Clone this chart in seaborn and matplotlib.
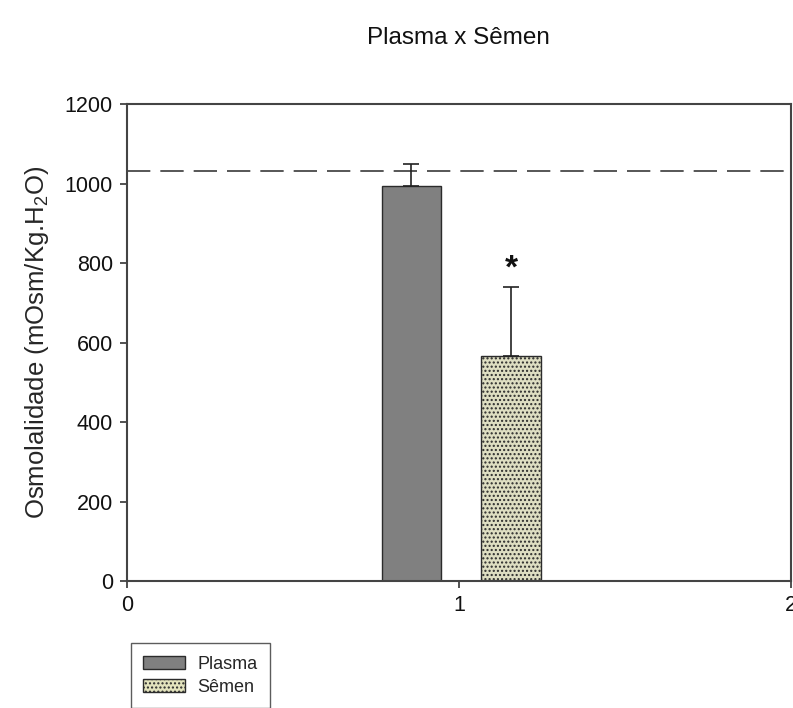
import matplotlib
matplotlib.use("Agg")
import matplotlib.pyplot as plt
import seaborn as sns
import pandas as pd
from matplotlib.patches import Patch

# ---- data ----
groups = ["Plasma", "Sêmen"]
means = [994, 566]
errors = [55, 174]
reference_line = 1031
x_ticks = [0, 1, 2]
y_ticks = [0, 200, 400, 600, 800, 1000, 1200]

BAR_X = [0.857, 1.157]

sns.set_theme(style="white")
plt.rcParams["font.family"] = ["Liberation Sans", "DejaVu Sans"]
plt.rcParams["hatch.color"] = "#5c5c40"
plt.rcParams["hatch.linewidth"] = 1.0

df = pd.DataFrame({"pos": BAR_X, "value": means, "group": groups})

fig = plt.figure(figsize=(7.93, 7.08), dpi=100)
ax = fig.add_axes([0.160, 0.179, 0.8375, 0.674])

colors = {"Plasma": "#808080", "Sêmen": "#e3e3bd"}
sns.barplot(data=df, x="pos", y="value", hue="group", native_scale=True,
            dodge=False, width=0.6, palette=colors, errorbar=None,
            edgecolor="#2b2b2b", linewidth=1.0, ax=ax, legend=False)

for p in ax.patches:
    fc = p.get_facecolor()
    if abs(fc[0] - 0xe3 / 255) < 0.02:
        p.set_hatch("....")

ax.errorbar(BAR_X, means, yerr=[[0, 0], errors], fmt="none",
            ecolor="#222222", elinewidth=1.2, capsize=6, capthick=1.2, zorder=1)

ax.axhline(reference_line, color="#3a3a3a", lw=1.2, dashes=(14, 6), zorder=0)

ax.text(BAR_X[1], means[1] + errors[1] + 5, "*", ha="center", va="bottom",
        fontsize=24, fontweight="bold", color="#111111")

ax.set_xlim(0, 2)
ax.set_ylim(0, 1200)
ax.set_xticks(x_ticks)
ax.set_xticklabels([str(t) for t in x_ticks])
ax.set_yticks(y_ticks)
ax.set_xlabel("")
ax.set_ylabel("Osmolalidade (mOsm/Kg.H$_\\mathregular{2}$O)", fontsize=18.5, labelpad=10)
ax.tick_params(axis="both", direction="out", length=5, width=1.2,
               colors="#333333", labelsize=15.5, labelcolor="#111111",
               bottom=True, left=True, pad=5)
for s in ax.spines.values():
    s.set_color("#444444")
    s.set_linewidth(1.5)
    s.set_visible(True)

fig.suptitle("Plasma x Sêmen", x=0.578, y=0.962, fontsize=17.5, color="#111111")

handles = [Patch(facecolor="#808080", edgecolor="#2b2b2b", label="Plasma"),
           Patch(facecolor="#e3e3bd", edgecolor="#2b2b2b", hatch="....", label="Sêmen")]
leg = fig.legend(handles=handles, loc="upper left", bbox_to_anchor=(0.165, 0.092),
                 fontsize=13, frameon=True, fancybox=False, edgecolor="#333333",
                 handlelength=2.3, handleheight=0.75, borderpad=0.7,
                 labelspacing=0.35, handletextpad=0.7, borderaxespad=0)
leg.get_frame().set_linewidth(1.0)

fig.savefig("out.png", dpi=100)
